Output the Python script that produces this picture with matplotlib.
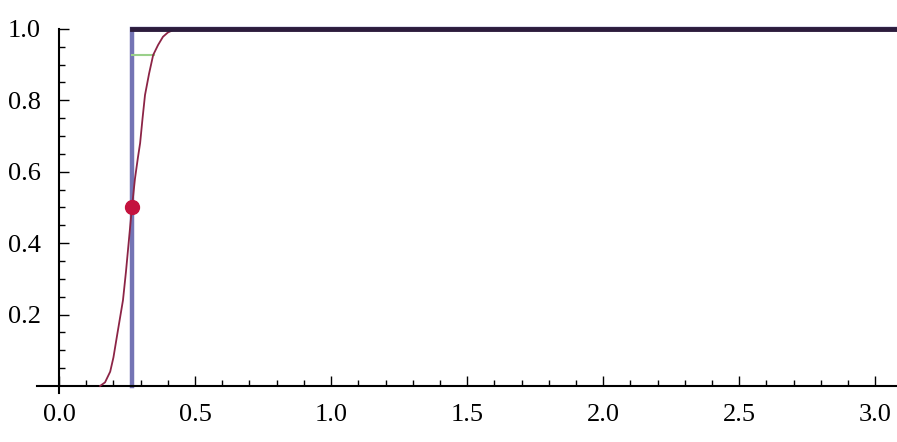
"""Empirical step vs smooth CDF, Mathematica-style axes."""
import matplotlib
matplotlib.use("Agg")
import matplotlib.pyplot as plt
from matplotlib.ticker import FixedLocator

# smooth CDF curve
cdf_x = [0.151, 0.169, 0.188, 0.200, 0.213, 0.224, 0.235, 0.246, 0.257, 0.268,
         0.279, 0.290, 0.298, 0.307, 0.316, 0.331, 0.346, 0.364, 0.382, 0.400,
         0.420, 0.445, 3.08]
cdf_y = [0.0, 0.01, 0.04, 0.08, 0.14, 0.19, 0.24, 0.32, 0.41, 0.50,
         0.58, 0.64, 0.68, 0.75, 0.815, 0.875, 0.927, 0.955, 0.978, 0.99,
         0.997, 1.0, 1.0]

# step function
step_x = [0.268, 0.268, 3.08]
step_y = [0.0, 1.0, 1.0]

# short green segment near the top
green_x = [0.268, 0.350]
green_y = [0.927, 0.927]

# median point
pt_x, pt_y = 0.268, 0.5

x_major = [0.0, 0.5, 1.0, 1.5, 2.0, 2.5, 3.0]
y_major = [0.2, 0.4, 0.6, 0.8, 1.0]

xmin, xmax = -0.217, 3.08
ymin, ymax = -0.157, 1.081

fig = plt.figure(figsize=(8.97, 4.42), dpi=100)
ax = fig.add_axes([0, 0, 1, 1])
ax.set_xlim(xmin, xmax)
ax.set_ylim(ymin, ymax)

ax.plot(step_x, step_y, color="#7474b4", lw=3.2, solid_joinstyle="miter", zorder=2)
ax.plot(green_x, green_y, color="#9ad08a", lw=1.5, zorder=3)
ax.plot(cdf_x, cdf_y, color="#8c2446", lw=1.3, zorder=4)
ax.plot([pt_x, xmax], [1.0, 1.0], color="#2c1c3c", lw=3.5, zorder=5)
ax.plot(pt_x, pt_y, "o", color="#c4123e", ms=10, zorder=6)

for s in ("top", "right"):
    ax.spines[s].set_visible(False)
ax.spines["left"].set_position(("data", 0))
ax.spines["bottom"].set_position(("data", 0))
ax.spines["left"].set_bounds(-0.02, 1.0)
ax.spines["bottom"].set_bounds(-0.08, xmax)
ax.spines["left"].set_linewidth(1.5)
ax.spines["bottom"].set_linewidth(1.5)

ax.xaxis.set_major_locator(FixedLocator(x_major))
ax.xaxis.set_minor_locator(FixedLocator([0.1 * i for i in range(1, 31) if i % 5]))
ax.yaxis.set_major_locator(FixedLocator(y_major))
ax.yaxis.set_minor_locator(FixedLocator([0.05 * i for i in range(1, 20) if i % 4]))

ax.xaxis.set_major_formatter(plt.FuncFormatter(lambda v, p: f"{v:.1f}"))
ax.yaxis.set_major_formatter(plt.FuncFormatter(lambda v, p: f"{v:.1f}"))

ax.tick_params(which="both", direction="in", color="black", width=1.0)
ax.tick_params(which="major", length=7, pad=13, labelsize=19)
ax.tick_params(which="minor", length=4)
for lab in ax.get_xticklabels() + ax.get_yticklabels():
    lab.set_family("Liberation Serif")

fig.savefig("out.png", dpi=100)
